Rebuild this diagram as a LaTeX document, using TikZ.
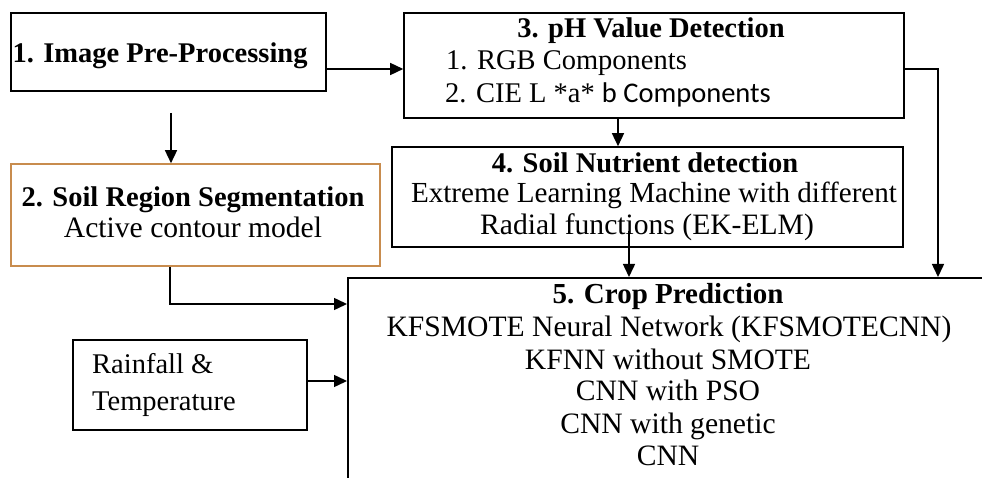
\documentclass[tikz,border=0pt]{standalone}
\usepackage{fontspec}
\setmainfont{Liberation Serif}
\newfontfamily\calib{Carlito}
\usetikzlibrary{arrows.meta}
\definecolor{segborder}{RGB}{200,140,78}
\tikzset{
  box/.style={draw=black, line width=1.6pt, rectangle, inner sep=0pt},
  lbl/.style={inner sep=0pt, anchor=base, font=\fontsize{28.5}{32}\selectfont},
  wide/.style={inner sep=0pt, anchor=base, font=\fontsize{29.6}{32}\selectfont},
  hdr/.style={inner sep=0pt, anchor=base, font=\fontsize{28.5}{32}\selectfont\bfseries},
  arr/.style={line width=1.5pt, -{Triangle[length=13pt,width=12pt]}},
}
\begin{document}
\begin{tikzpicture}[x=1pt,y=-1pt]
\useasboundingbox (0,0) rectangle (982,478);
\clip (0,0) rectangle (982,478);
\fill[white] (0,0) rectangle (982,478);

% helper coordinates for connector rows and columns
\coordinate (row69) at (0,69);
\coordinate (row304) at (0,304);
\coordinate (row381) at (0,381);
\coordinate (col618) at (618,0);
\coordinate (col938) at (938,0);
\coordinate (col170) at (170,0);
\coordinate (s2) at (171,113);
\coordinate (s5) at (629,231);

% 1. pre-processing
\node[box, minimum width=315pt, minimum height=78pt] (pre) at (168.5,52) {};
\node[hdr] (preT) at (160,63) {1. Image Pre-Processing};

% 2. segmentation
\node[box, draw=segborder, minimum width=369pt, minimum height=102pt] (seg) at (195.5,215) {};
\node[hdr] (segT) at (193,206.5) {2. Soil Region Segmentation};
\node[wide] (segA) at (193,238) {Active contour model};

% 3. pH value detection
\node[box, minimum width=500pt, minimum height=105pt] (ph) at (654,65.5) {};
\node[hdr] (phT) at (651,38) {3. pH Value Detection};
\node[lbl, anchor=base west] (phA) at (446,70) {1. RGB Components};
\node[lbl, anchor=base west] (phB) at (445,103) {2. CIE L *a* {\calib b Components}};

% 4. soil nutrient detection
\node[box, minimum width=511pt, minimum height=100pt] (nut) at (647.5,197) {};
\node[hdr] (nutT) at (645,173) {4. Soil Nutrient detection};
\node[wide, font=\fontsize{29.1}{32}\selectfont] (nutA) at (654,203) {Extreme Learning Machine with different};
\node[wide] (nutB) at (647,235) {Radial functions (EK-ELM)};

% 5. crop prediction (runs past the right and bottom edges)
\node[box, anchor=north west, minimum width=700pt, minimum height=300pt] (crop) at (347,277) {};
\node[hdr, font=\fontsize{29}{32}\selectfont\bfseries] (cropT) at (668,303) {5. Crop Prediction};
\node[wide] (cropA) at (669,336) {KFSMOTE Neural Network (KFSMOTECNN)};
\node[wide] (cropB) at (668,369) {KFNN without SMOTE};
\node[wide] (cropC) at (668,400) {CNN with PSO};
\node[wide] (cropD) at (668,433) {CNN with genetic};
\node[wide] (cropE) at (668,465) {CNN};

% rainfall & temperature
\node[box, minimum width=234pt, minimum height=90pt] (rain) at (190,385) {};
\node[lbl, anchor=base west] (rainA) at (92,373) {Rainfall \&};
\node[lbl, anchor=base west] (rainB) at (92,410) {Temperature};

% connectors
\draw[arr] (pre.east |- row69) -- (ph.west |- row69);
\draw[arr] (s2) -- (s2 |- seg.north);
\draw[arr] (ph.south -| col618) -- (nut.north -| col618);
\draw[arr] (ph.east |- row69) -| (crop.north -| col938);
\draw[arr] (s5) -- (s5 |- crop.north);
\draw[arr] (seg.south -| col170) |- (crop.west |- row304);
\draw[arr] (rain.east |- row381) -- (crop.west |- row381);
\end{tikzpicture}
\end{document}
